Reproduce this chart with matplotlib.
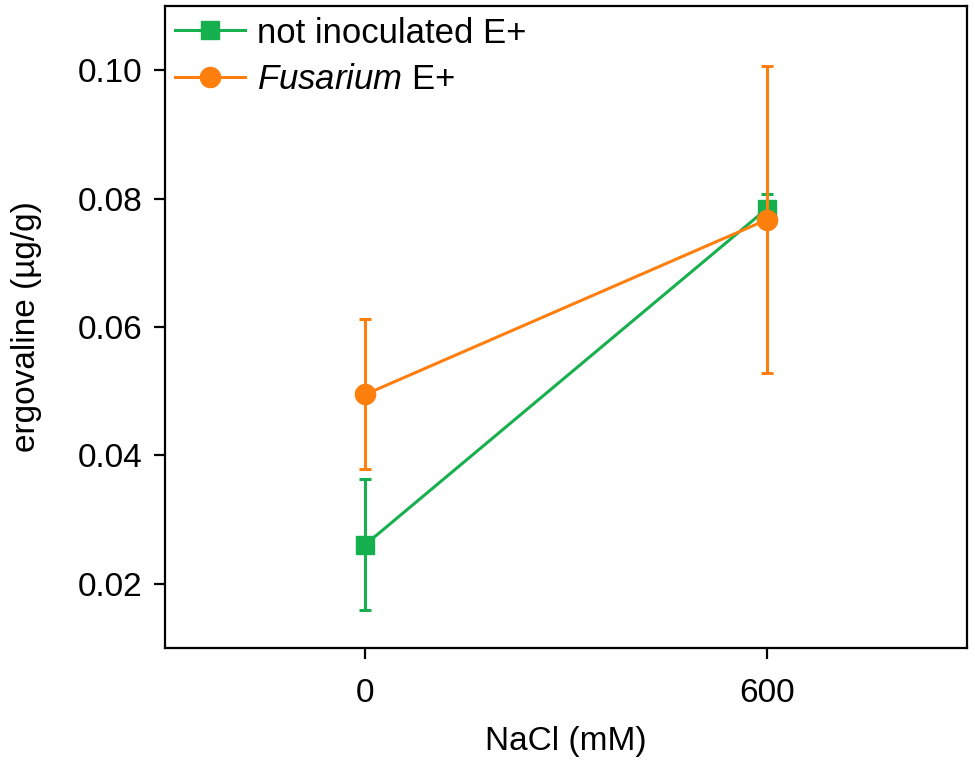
import numpy as np
import matplotlib
matplotlib.use('Agg')
import matplotlib.pyplot as plt
from matplotlib.lines import Line2D

plt.rcParams['font.family'] = ['Liberation Sans', 'DejaVu Sans']
plt.rcParams['mathtext.fontset'] = 'custom'
plt.rcParams['mathtext.rm'] = 'Liberation Sans'
plt.rcParams['mathtext.it'] = 'Liberation Sans:italic'

nacl = [0, 600]
not_inoc = [0.0261, 0.0784]
not_inoc_err = [0.0102, 0.0023]
fusarium = [0.0495, 0.0767]
fusarium_err = [0.0117, 0.0239]

green = '#17b04e'
orange = '#ff7f0e'

fig = plt.figure(figsize=(9.75, 7.64), dpi=100)
ax = fig.add_axes([0.169, 0.152, 0.823, 0.840])

ax.errorbar(nacl, not_inoc, yerr=not_inoc_err, color=green, marker='s', markersize=13.5,
            linewidth=2.2, elinewidth=2.2, capsize=4.5, capthick=2.2, zorder=3)
ax.errorbar(nacl, fusarium, yerr=fusarium_err, color=orange, marker='o', markersize=14.5,
            linewidth=2.2, elinewidth=2.2, capsize=4.5, capthick=2.2, zorder=4)

ax.set_xlim(-300, 900)
ax.set_ylim(0.01, 0.11)
ax.set_xticks(nacl)
ax.set_yticks([0.02, 0.04, 0.06, 0.08, 0.10])
ax.set_yticklabels(['0.02', '0.04', '0.06', '0.08', '0.10'])
ax.tick_params(labelsize=24, width=1.6, length=8, direction='out')
ax.tick_params(axis='x', pad=14)
ax.tick_params(axis='y', pad=8)
for s in ax.spines.values():
    s.set_linewidth(1.6)

ax.set_xlabel('NaCl (mM)', fontsize=24, labelpad=12)
ax.set_ylabel('ergovaline (µg/g)', fontsize=24, labelpad=26)

handles = [
    Line2D([], [], color=green, marker='s', markersize=13.5, linewidth=2.2),
    Line2D([], [], color=orange, marker='o', markersize=14.5, linewidth=2.2),
]
labels = ['not inoculated E+', '$\\mathit{Fusarium}$ E+']
ax.legend(handles, labels, loc='upper left', fontsize=25, frameon=False, handlelength=2.0,
          borderaxespad=0.15, handletextpad=0.35, labelspacing=0.4, borderpad=0.15)

fig.savefig('out.png', dpi=100)
